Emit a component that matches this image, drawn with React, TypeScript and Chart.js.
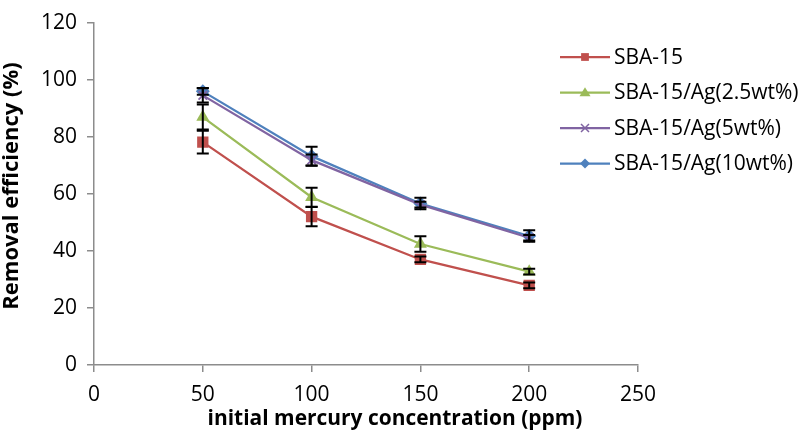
import React, { useEffect, useRef } from "react";
import { Chart, registerables } from "chart.js";

Chart.register(...registerables);

const concentrations = [50, 100, 150, 200];
const xTicks = [0, 50, 100, 150, 200, 250];
const yTicks = [0, 20, 40, 60, 80, 100, 120];

const sbaValues = [78.1, 52.0, 37.0, 27.9];
const sbaErrors = [4.0, 3.4, 1.0, 1.0];
const ag25Values = [86.9, 58.8, 42.4, 32.7];
const ag25Errors = [4.4, 3.3, 2.7, 1.0];
const ag5Values = [94.5, 71.8, 56.2, 44.6];
const ag5Errors = [2.5, 2.0, 1.0, 1.0];
const ag10Values = [95.9, 73.2, 56.6, 45.2];
const ag10Errors = [1.2, 3.3, 2.0, 2.0];

const seriesNames = ["SBA-15", "SBA-15/Ag(2.5wt%)", "SBA-15/Ag(5wt%)", "SBA-15/Ag(10wt%)"];
const xTitle = "initial mercury concentration (ppm)";
const yTitle = "Removal efficiency (%)";

const FONT = "'Open Sans', 'Liberation Sans', sans-serif";

const styles = [
  { color: "#C0504D", pointStyle: "rect", radius: 8, legendRadius: 5.5 },
  { color: "#9BBB59", pointStyle: "triangle", radius: 7.5, legendRadius: 5.5 },
  { color: "#8064A2", pointStyle: "crossRot", radius: 6, legendRadius: 4 },
  { color: "#4F81BD", pointStyle: "rectRot", radius: 7, legendRadius: 5 },
];

const allValues = [sbaValues, ag25Values, ag5Values, ag10Values];
const allErrors = [sbaErrors, ag25Errors, ag5Errors, ag10Errors];

function drawMarker(ctx: CanvasRenderingContext2D, style: string, x: number, y: number, r: number, color: string) {
  ctx.save();
  ctx.fillStyle = color;
  ctx.strokeStyle = color;
  ctx.lineWidth = 1.5;
  ctx.beginPath();
  if (style === "rect") {
    const s = r * Math.SQRT1_2;
    ctx.rect(x - s, y - s, 2 * s, 2 * s);
    ctx.fill();
  } else if (style === "triangle") {
    ctx.moveTo(x - r, y + r * 0.7);
    ctx.lineTo(x, y - r * 0.95);
    ctx.lineTo(x + r, y + r * 0.7);
    ctx.closePath();
    ctx.fill();
  } else if (style === "rectRot") {
    ctx.moveTo(x, y - r);
    ctx.lineTo(x + r, y);
    ctx.lineTo(x, y + r);
    ctx.lineTo(x - r, y);
    ctx.closePath();
    ctx.fill();
  } else {
    ctx.moveTo(x - r, y - r);
    ctx.lineTo(x + r, y + r);
    ctx.moveTo(x + r, y - r);
    ctx.lineTo(x - r, y + r);
    ctx.stroke();
  }
  ctx.restore();
}

const overlayPlugin = {
  id: "overlay",
  afterDatasetsDraw(chart: any) {
    const ctx: CanvasRenderingContext2D = chart.ctx;
    const xs = chart.scales.x;
    const ys = chart.scales.y;
    ctx.save();
    ctx.strokeStyle = "#000";
    ctx.lineWidth = 2;
    allValues.forEach((vals, si) => {
      vals.forEach((v, i) => {
        const e = allErrors[si][i];
        const px = xs.getPixelForValue(concentrations[i]);
        const yTop = ys.getPixelForValue(v + e);
        const yBot = ys.getPixelForValue(v - e);
        ctx.beginPath();
        ctx.moveTo(px, yTop);
        ctx.lineTo(px, yBot);
        ctx.moveTo(px - 6, yTop);
        ctx.lineTo(px + 6, yTop);
        ctx.moveTo(px - 6, yBot);
        ctx.lineTo(px + 6, yBot);
        ctx.stroke();
      });
    });
    ctx.restore();
  },
  afterDraw(chart: any) {
    const ctx: CanvasRenderingContext2D = chart.ctx;
    ctx.save();
    // legend
    const legendX0 = 560;
    const legendX1 = 610;
    const legendY0 = 57;
    const legendStep = 35.5;
    ctx.font = `21px ${FONT}`;
    ctx.textBaseline = "middle";
    ctx.textAlign = "left";
    seriesNames.forEach((name, i) => {
      const st = styles[i];
      const y = legendY0 + i * legendStep;
      ctx.strokeStyle = st.color;
      ctx.lineWidth = 2.25;
      ctx.beginPath();
      ctx.moveTo(legendX0, y);
      ctx.lineTo(legendX1, y);
      ctx.stroke();
      drawMarker(ctx, st.pointStyle, (legendX0 + legendX1) / 2, y, st.legendRadius, st.color);
      ctx.fillStyle = "#000";
      ctx.fillText(name, 614, y + 1);
    });
    // axis titles
    ctx.fillStyle = "#000";
    ctx.font = `bold 20px ${FONT}`;
    const w = ctx.measureText(xTitle).width;
    const size = (20 * 375) / w;
    ctx.font = `bold ${size}px ${FONT}`;
    ctx.textAlign = "center";
    ctx.textBaseline = "middle";
    ctx.fillText(xTitle, 395, 419);
    ctx.font = `bold ${size * 1.05}px ${FONT}`;
    ctx.translate(12, 186);
    ctx.rotate(-Math.PI / 2);
    ctx.fillText(yTitle, 0, 0);
    ctx.restore();
  },
};

export default function App() {
  const canvasRef = useRef<HTMLCanvasElement | null>(null);

  useEffect(() => {
    if (!canvasRef.current) return;
    const datasets = allValues.map((vals, si) => ({
      label: seriesNames[si],
      data: vals.map((v, i) => ({ x: concentrations[i], y: v })),
      borderColor: styles[si].color,
      backgroundColor: styles[si].color,
      pointStyle: styles[si].pointStyle as any,
      pointRadius: styles[si].radius,
      pointBorderWidth: si === 2 ? 1.8 : 0,
      pointBorderColor: styles[si].color,
      borderWidth: 2.25,
      tension: 0,
      fill: false,
    }));
    const chart = new Chart(canvasRef.current, {
      type: "line",
      data: { datasets },
      options: {
        animation: false,
        responsive: true,
        maintainAspectRatio: false,
        layout: { padding: { left: 0, right: 161, top: 14, bottom: 0 } },
        plugins: { legend: { display: false }, tooltip: { enabled: false } },
        scales: {
          x: {
            type: "linear",
            min: 0,
            max: 250,
            afterBuildTicks: (scale: any) => {
              scale.ticks = xTicks.map((v) => ({ value: v }));
            },
            afterFit: (scale: any) => {
              scale.height = 77;
            },
            ticks: { font: { family: FONT, size: 21 }, color: "#000", padding: 10, maxRotation: 0 },
            grid: { drawOnChartArea: false, drawTicks: true, tickLength: 7, color: "#8c8c8c", lineWidth: 1.5 },
            border: { color: "#8c8c8c", width: 1.5 },
          },
          y: {
            min: 0,
            max: 120,
            afterBuildTicks: (scale: any) => {
              scale.ticks = yTicks.map((v) => ({ value: v }));
            },
            afterFit: (scale: any) => {
              scale.width = 94;
            },
            ticks: { font: { family: FONT, size: 21 }, color: "#000", padding: 10 },
            grid: { drawOnChartArea: false, drawTicks: true, tickLength: 7, color: "#8c8c8c", lineWidth: 1.5 },
            border: { color: "#8c8c8c", width: 1.5 },
          },
        },
      },
      plugins: [overlayPlugin],
    });
    return () => chart.destroy();
  }, []);

  return (
    <div style={{ position: "fixed", left: 0, top: 0, width: 799, height: 442, background: "#fff" }}>
      <canvas ref={canvasRef} />
    </div>
  );
}
